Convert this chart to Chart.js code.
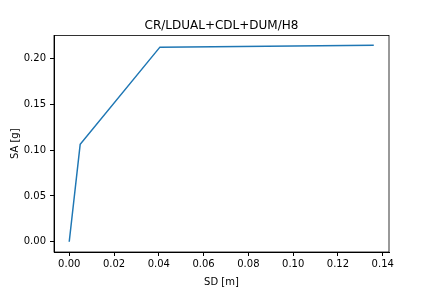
<!DOCTYPE html>
<html>
<head>
<meta charset="utf-8">
<script src="https://cdn.jsdelivr.net/npm/chart.js@4"></script>
<style>
  html, body { margin: 0; padding: 0; background: #fff; }
  #wrap { width: 432px; height: 288px; }
</style>
</head>
<body>
<div id="wrap"><canvas id="grafico" width="432" height="288"></canvas></div>
<script>
// datos
const sd = [0.0, 0.0049, 0.0405, 0.1360];
const sa = [0.0, 0.1065, 0.2125, 0.2145];
const xTicks = [0.00, 0.02, 0.04, 0.06, 0.08, 0.10, 0.12, 0.14];
const yTicks = [0.00, 0.05, 0.10, 0.15, 0.20];
const titulo = 'CR/LDUAL+CDL+DUM/H8';

const fuente = { family: 'DejaVu Sans', size: 10 };

// titulo centrado sobre el area del grafico y marco completo, como matplotlib
const marcoPlugin = {
  id: 'marcoEjes',
  afterDraw(chart) {
    const { ctx, chartArea } = chart;
    ctx.save();
    ctx.strokeStyle = '#000';
    ctx.lineWidth = 0.8;
    ctx.strokeRect(chartArea.left, chartArea.top, chartArea.right - chartArea.left, chartArea.bottom - chartArea.top);
    ctx.font = '12px "DejaVu Sans"';
    ctx.fillStyle = '#000';
    ctx.textAlign = 'center';
    ctx.textBaseline = 'alphabetic';
    ctx.fillText(titulo, (chartArea.left + chartArea.right) / 2, 29);
    ctx.restore();
  }
};

const puntos = sd.map((x, i) => ({ x: x, y: sa[i] }));

new Chart(document.getElementById('grafico').getContext('2d'), {
  type: 'scatter',
  data: {
    datasets: [{
      data: puntos,
      showLine: true,
      borderColor: '#1f77b4',
      borderWidth: 1.5,
      pointRadius: 0,
      tension: 0
    }]
  },
  options: {
    responsive: false,
    animation: false,
    layout: { padding: { left: 0, right: 43, top: 35.5, bottom: 0 } },
    plugins: { legend: { display: false }, tooltip: { enabled: false } },
    scales: {
      x: {
        type: 'linear',
        min: -0.0068,
        max: 0.1428,
        afterBuildTicks: s => { s.ticks = xTicks.map(v => ({ value: v })); },
        afterFit: s => { s.height = 36; },
        grid: { drawOnChartArea: false, drawTicks: true, tickLength: 4, color: '#000' },
        border: { display: true, color: '#000', width: 1 },
        ticks: { color: '#000', font: fuente, padding: 2, maxRotation: 0,
                 callback: v => v.toFixed(2) },
        title: { display: true, text: 'SD [m]', color: '#000', font: fuente, padding: { top: 2, bottom: 0 } }
      },
      y: {
        type: 'linear',
        min: -0.0112,
        max: 0.2252,
        afterBuildTicks: s => { s.ticks = yTicks.map(v => ({ value: v })); },
        afterFit: s => { s.width = 54; },
        grid: { drawOnChartArea: false, drawTicks: true, tickLength: 4, color: '#000' },
        border: { display: true, color: '#000', width: 1 },
        ticks: { color: '#000', font: fuente, padding: 4,
                 callback: v => v.toFixed(2) },
        title: { display: true, text: 'SA [g]', color: '#000', font: fuente, padding: { top: 9, bottom: 0 } }
      }
    }
  },
  plugins: [marcoPlugin]
});
</script>
</body>
</html>
